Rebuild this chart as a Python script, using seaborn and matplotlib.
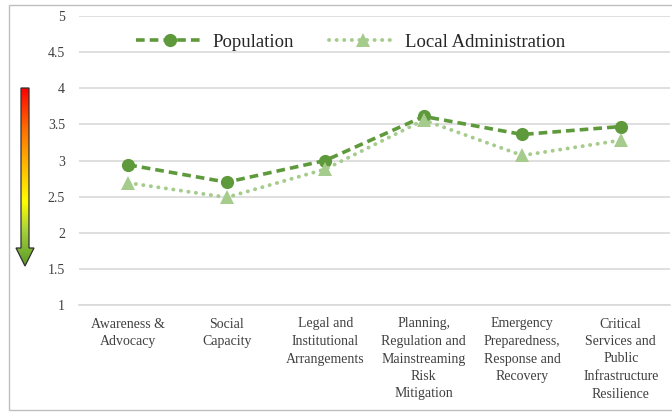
import numpy as np
import pandas as pd
import seaborn as sns
import matplotlib.pyplot as plt
from matplotlib.patches import Polygon
from matplotlib.colors import LinearSegmentedColormap

categories = ["Awareness &\nAdvocacy", "Social\nCapacity", "Legal and\nInstitutional\nArrangements",
              "Planning,\nRegulation and\nMainstreaming\nRisk\nMitigation",
              "Emergency\nPreparedness,\nResponse and\nRecovery",
              "Critical\nServices and\nPublic\nInfrastructure\nResilience"]
population = [2.94, 2.70, 3.00, 3.61, 3.36, 3.47]
local_admin = [2.69, 2.49, 2.88, 3.56, 3.07, 3.28]

sns.set_theme(style="white")
plt.rcParams['font.family'] = ['Liberation Serif', 'DejaVu Serif']

df = pd.DataFrame({"pos": list(range(len(categories))) * 2,
                   "score": population + local_admin,
                   "group": ["Population"] * 6 + ["Local Administration"] * 6})

fig = plt.figure(figsize=(6.72, 4.12), dpi=100)
ax = fig.add_axes([79 / 672, 1 - 305 / 412, (670 - 79) / 672, (305 - 16) / 412])

dark = "#5e9a3c"
light = "#a5cc8c"
sns.lineplot(data=df[df.group == "Population"], x="pos", y="score", ax=ax, color=dark,
             linestyle=(0, (2.4, 1.4)), linewidth=2.6, marker="o", markersize=9.5,
             markeredgewidth=0, label="Population")
sns.lineplot(data=df[df.group == "Local Administration"], x="pos", y="score", ax=ax, color=light,
             linestyle=(0, (0.05, 1.9)), linewidth=2.8, marker="^", markersize=10.5,
             markeredgewidth=0, label="Local Administration", dash_capstyle="round")

ax.set_xlim(-0.5, len(categories) - 0.5)
ax.set_ylim(1, 5)
ax.set_yticks(np.arange(1, 5.01, 0.5))
ax.set_yticklabels(["1", "1.5", "2", "2.5", "3", "3.5", "4", "4.5", "5"])
ax.set_xticks(range(len(categories)))
ax.set_xticklabels(categories, linespacing=1.45)
ax.tick_params(axis="both", labelsize=10, colors="#404040", length=0)
ax.tick_params(axis="x", pad=9)
ax.tick_params(axis="y", pad=10)
ax.yaxis.grid(True, color="#d9d9d9", linewidth=1.2)
ax.set_axisbelow(True)
for s in ["top", "right", "left"]:
    ax.spines[s].set_visible(False)
ax.spines["bottom"].set_color("#d9d9d9")
ax.spines["bottom"].set_linewidth(1.2)
ax.set_xlabel("")
ax.set_ylabel("")

leg = ax.legend(loc="upper center", bbox_to_anchor=(0.46, 0.985), ncol=2, frameon=False,
                fontsize=13.5, handlelength=3.6, handletextpad=0.45, columnspacing=1.9,
                borderaxespad=0.3)
for t in leg.get_texts():
    t.set_color("#262626")
leg.get_lines()[1].set_dash_capstyle("round")

# gradient arrow on the left
aax = fig.add_axes([0, 0, 1, 1], zorder=-1)
aax.set_xlim(0, 672)
aax.set_ylim(412, 0)
aax.axis("off")
cmap = LinearSegmentedColormap.from_list(
    "arr", [(0, "#ff0000"), (0.22, "#ff6a00"), (0.42, "#ffb400"), (0.64, "#ffff00"),
            (0.8, "#a6d23a"), (1, "#5a9a2a")])
grad = np.linspace(0, 1, 256).reshape(-1, 1)
img = aax.imshow(grad, cmap=cmap, extent=[16, 34, 266, 88], aspect="auto")
arrow = [(21, 88), (29, 88), (29, 248), (34, 248), (25, 266), (16, 248), (21, 248)]
clip = Polygon(arrow, closed=True, transform=aax.transData, facecolor="none")
img.set_clip_path(clip)
aax.add_patch(Polygon(arrow, closed=True, facecolor="none", edgecolor="#2f2f2f", linewidth=0.9))

# outer border
fig.patches.append(plt.Rectangle((9 / 672, 2 / 412), 1.2, 1 - 7 / 412, transform=fig.transFigure,
                                 fill=False, edgecolor="#bfbfbf", linewidth=1))

fig.savefig("out.png", dpi=100)
